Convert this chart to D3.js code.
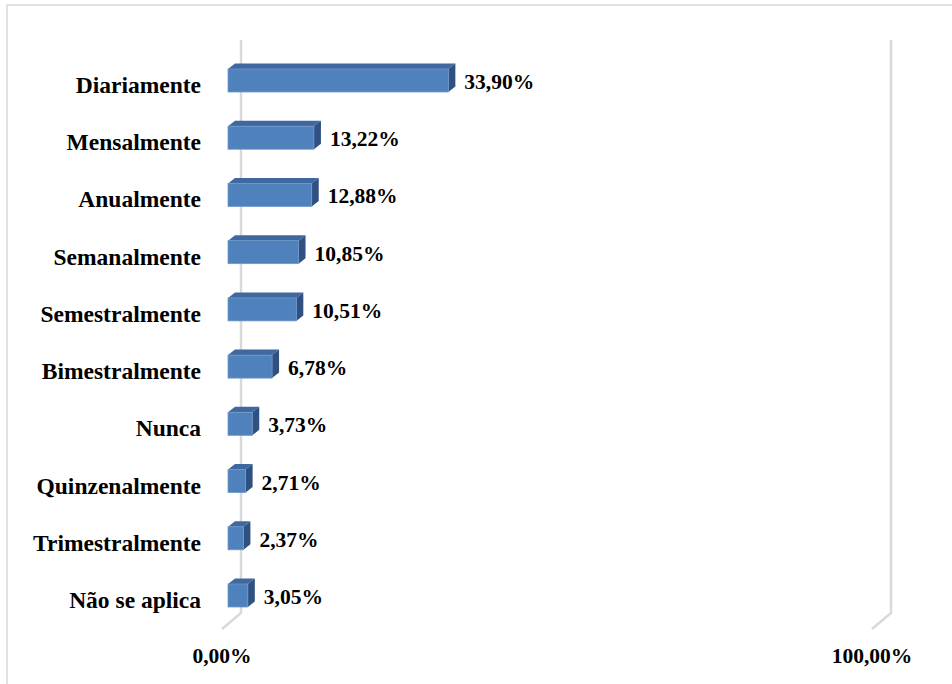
<!DOCTYPE html>
<html>
<head>
<meta charset="utf-8">
<script src="https://cdn.jsdelivr.net/npm/d3@7"></script>
<style>
  html, body { margin: 0; padding: 0; background: #fff; }
  svg { display: block; }
</style>
</head>
<body>
<script>
// Frequency categories, top to bottom
const categories = [
  "Diariamente", "Mensalmente", "Anualmente", "Semanalmente", "Semestralmente",
  "Bimestralmente", "Nunca", "Quinzenalmente", "Trimestralmente", "Não se aplica"
];
// Share of answers (%)
const values = [33.90, 13.22, 12.88, 10.85, 10.51, 6.78, 3.73, 2.71, 2.37, 3.05];
// Axis ticks (%)
const ticks = [0, 100];

const W = 952, H = 684;
const FONT = "'Liberation Serif', 'Times New Roman', Tinos, 'DejaVu Serif', serif";
const svg = d3.select("body").append("svg").attr("width", W).attr("height", H)
  .attr("font-family", FONT).attr("font-weight", "bold");

// Chart frame
svg.append("rect")
  .attr("x", 7).attr("y", 5).attr("width", W + 20).attr("height", H + 20)
  .attr("fill", "none").attr("stroke", "#d9d9d9").attr("stroke-width", 1.5);

const x = d3.scaleLinear().domain([0, 100]).range([228, 878]);
const y = d3.scalePoint().domain(categories).range([80.5, 595.5]);

const barH = 23;          // front face height
const dx = 7, dy = -5.5;  // 3D depth offset
const backDx = 13;        // back wall offset of gridlines
const wallTop = 40, wallBottom = 613, floorDrop = 16, floorDx = -6;

const fmt = v => d3.format(".2f")(v).replace(".", ",") + "%";

// Gridlines on the back wall plus the floor edge
const grid = svg.append("g").attr("fill", "none").attr("stroke", "#d9d9d9").attr("stroke-width", 2.5);
ticks.forEach(t => {
  const xb = x(t) + backDx;
  grid.append("path")
    .attr("d", `M${xb},${wallTop} L${xb},${wallBottom} L${x(t) + floorDx},${wallBottom + floorDrop}`);
});

// Tick labels
svg.append("g").selectAll("text").data(ticks).join("text")
  .attr("x", t => x(t) + floorDx)
  .attr("y", 663)
  .attr("text-anchor", "middle")
  .attr("font-family", FONT).attr("font-weight", "bold")
  .attr("font-size", 21.5)
  .text(t => fmt(t));

// Category labels
svg.append("g").selectAll("text").data(categories).join("text")
  .attr("x", 201)
  .attr("y", c => y(c) + 12.5)
  .attr("text-anchor", "end")
  .attr("font-family", FONT).attr("font-weight", "bold")
  .attr("font-size", 23.5)
  .text(c => c);

// 3D bars
const data = categories.map((c, i) => ({ c, v: values[i] }));
const bars = svg.append("g").selectAll("g").data(data).join("g");

bars.each(function (d) {
  const g = d3.select(this);
  const x0 = x(0), x1 = x(d.v);
  const yt = y(d.c) - barH / 2, yb = y(d.c) + barH / 2;
  // top face
  g.append("path")
    .attr("d", `M${x0},${yt} L${x0 + dx},${yt + dy} L${x1 + dx},${yt + dy} L${x1},${yt} Z`)
    .attr("fill", "#3f67a0");
  // side face
  g.append("path")
    .attr("d", `M${x1},${yt} L${x1 + dx},${yt + dy} L${x1 + dx},${yb + dy} L${x1},${yb} Z`)
    .attr("fill", "#2f5081");
  // front face
  g.append("rect")
    .attr("x", x0).attr("y", yt)
    .attr("width", x1 - x0).attr("height", barH)
    .attr("fill", "#4f81bd")
    .attr("stroke", "#6f98cb").attr("stroke-width", 0.8);
  // value label
  g.append("text")
    .attr("x", x1 + 16)
    .attr("y", y(d.c) + 8.5)
    .attr("font-family", FONT).attr("font-weight", "bold")
    .attr("font-size", 21.5)
    .text(fmt(d.v));
});
</script>
</body>
</html>
